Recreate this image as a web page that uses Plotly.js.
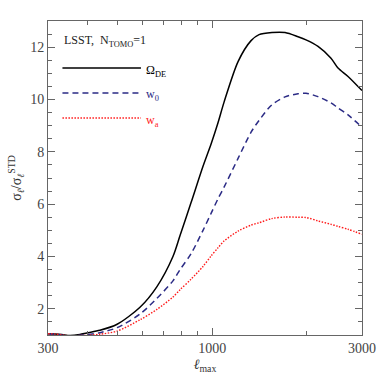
<!DOCTYPE html>
<html>
<head>
<meta charset="utf-8">
<script src="https://cdn.plot.ly/plotly-3.0.1.min.js"></script>
<style>
  html, body { margin: 0; padding: 0; background: #fff; }
  #chart { width: 382px; height: 382px; }
</style>
</head>
<body>
<div id="chart"></div>
<script>
/* sigma_l / sigma_l^STD vs l_max, LSST single tomo bin */

const ellMax = [300, 316, 332, 352, 379, 399, 439, 498, 589, 667, 750, 790, 856, 935, 992,
  1043, 1091, 1209, 1330, 1410, 1550, 1706, 1877, 1990, 2173, 2390, 2516, 2708, 3000];

const omegaDE = [1.05, 1.04, 1.02, 0.98, 1.02, 1.08, 1.18, 1.41, 2.06, 2.85, 4.0, 4.8, 6.05, 7.45, 8.3,
  9.1, 9.9, 11.45, 12.25, 12.48, 12.56, 12.56, 12.4, 12.28, 12.03, 11.58, 11.2, 10.88, 10.34];

const w0 = [1.05, 1.03, 1.0, 0.97, 0.99, 1.01, 1.09, 1.28, 1.8, 2.4, 3.07, 3.5, 4.1, 5.0, 5.65,
  6.2, 6.65, 7.75, 8.75, 9.2, 9.8, 10.1, 10.22, 10.24, 10.11, 9.87, 9.68, 9.41, 8.94];

const wa = [1.05, 1.04, 1.0, 0.97, 0.98, 0.99, 1.03, 1.15, 1.58, 1.98, 2.45, 2.73, 3.13, 3.62, 4.02,
  4.33, 4.59, 4.97, 5.2, 5.29, 5.45, 5.51, 5.5, 5.49, 5.36, 5.23, 5.15, 5.04, 4.85];

const xTicks = [300, 1000, 3000];
const xMinor = [400, 500, 600, 700, 800, 900, 2000];
const yTicks = [2, 4, 6, 8, 10, 12];
const yMinor = [1.5, 2.5, 3, 3.5, 4.5, 5, 5.5, 6.5, 7, 7.5, 8.5, 9, 9.5, 10.5, 11, 11.5, 12.5];

const seriesNames = ['Ω<sub>DE</sub>', 'w<sub>0</sub>', 'w<sub>a</sub>'];
const seriesColors = ['#000000', '#2b2b85', '#ff1a1a'];
const seriesDash = ['solid', '6px,4px', '1.5px,1.5px'];

const serif = '"Liberation Serif", "DejaVu Serif", serif';
const axisGrey = '#666666';
const xRange = [Math.log10(300), Math.log10(3000)];
const yRange = [1, 13];

const data = [omegaDE, w0, wa].map((y, i) => ({
  type: 'scatter',
  mode: 'lines',
  x: ellMax,
  y: y,
  name: seriesNames[i],
  line: { color: seriesColors[i], width: i === 2 ? 1.4 : 1.5, dash: seriesDash[i], shape: 'spline', smoothing: 0.8 },
  hoverinfo: 'skip',
}));

// empty trace so the overlay axes (minor ticks) get drawn
data.push({ type: 'scatter', mode: 'lines', x: [null], y: [null], xaxis: 'x2', yaxis: 'y2', hoverinfo: 'skip' });

// hand-made legend (line samples + labels inside the plot)
const legY = [0.850, 0.771, 0.691];
const shapes = legY.map((yy, i) => ({
  type: 'line', xref: 'paper', yref: 'paper',
  x0: 0.046, x1: 0.296, y0: yy, y1: yy,
  line: { color: seriesColors[i], width: 1.5, dash: seriesDash[i] },
}));

const annotations = legY.map((yy, i) => ({
  xref: 'paper', yref: 'paper', x: 0.307, y: yy - 0.008,
  xanchor: 'left', yanchor: 'middle', showarrow: false,
  text: seriesNames[i],
  font: { family: serif, size: 12, color: seriesColors[i] },
}));
annotations.push({
  xref: 'paper', yref: 'paper', x: 0.045, y: 0.937,
  xanchor: 'left', yanchor: 'middle', showarrow: false,
  text: 'LSST,  N<sub>TOMO</sub>=1',
  font: { family: serif, size: 12, color: '#222' },
});

const minorAxis = {
  ticks: 'inside', ticklen: 4, tickwidth: 1, tickcolor: axisGrey,
  showticklabels: false, showgrid: false, zeroline: false,
  showline: true, linecolor: axisGrey, linewidth: 1, mirror: 'ticks',
};

const layout = {
  width: 382,
  height: 382,
  paper_bgcolor: '#fff',
  plot_bgcolor: '#fff',
  showlegend: false,
  margin: { l: 48, r: 20, t: 21, b: 47 },
  font: { family: serif, size: 14, color: '#444' },
  xaxis: {
    type: 'log',
    range: xRange,
    tickvals: xTicks,
    ticktext: xTicks.map(String),
    ticks: 'inside', ticklen: 7, tickwidth: 1, tickcolor: axisGrey,
    showline: true, linecolor: axisGrey, linewidth: 1, mirror: 'ticks',
    showgrid: false, zeroline: false,
    tickfont: { family: serif, size: 14, color: '#444' },
    title: { text: '<i>ℓ</i><sub>max</sub>', font: { family: serif, size: 14, color: '#333' }, standoff: 4 },
  },
  yaxis: {
    range: yRange,
    tickvals: yTicks,
    ticks: 'inside', ticklen: 7, tickwidth: 1, tickcolor: axisGrey,
    showline: true, linecolor: axisGrey, linewidth: 1, mirror: 'ticks',
    showgrid: false, zeroline: false,
    tickfont: { family: serif, size: 14, color: '#444' },
    title: { text: 'σ<sub><i>ℓ</i></sub>/σ<sub><i>ℓ</i></sub><sup>STD</sup>', font: { family: serif, size: 14, color: '#333' }, standoff: 5 },
  },
  xaxis2: Object.assign({}, minorAxis, { type: 'log', range: xRange, tickvals: xMinor, overlaying: 'x', anchor: 'y2', side: 'bottom' }),
  yaxis2: Object.assign({}, minorAxis, { range: yRange, tickvals: yMinor, overlaying: 'y', anchor: 'x2', side: 'left' }),
  shapes: shapes,
  annotations: annotations,
};

Plotly.newPlot('chart', data, layout, { displayModeBar: false, staticPlot: true });
</script>
</body>
</html>
